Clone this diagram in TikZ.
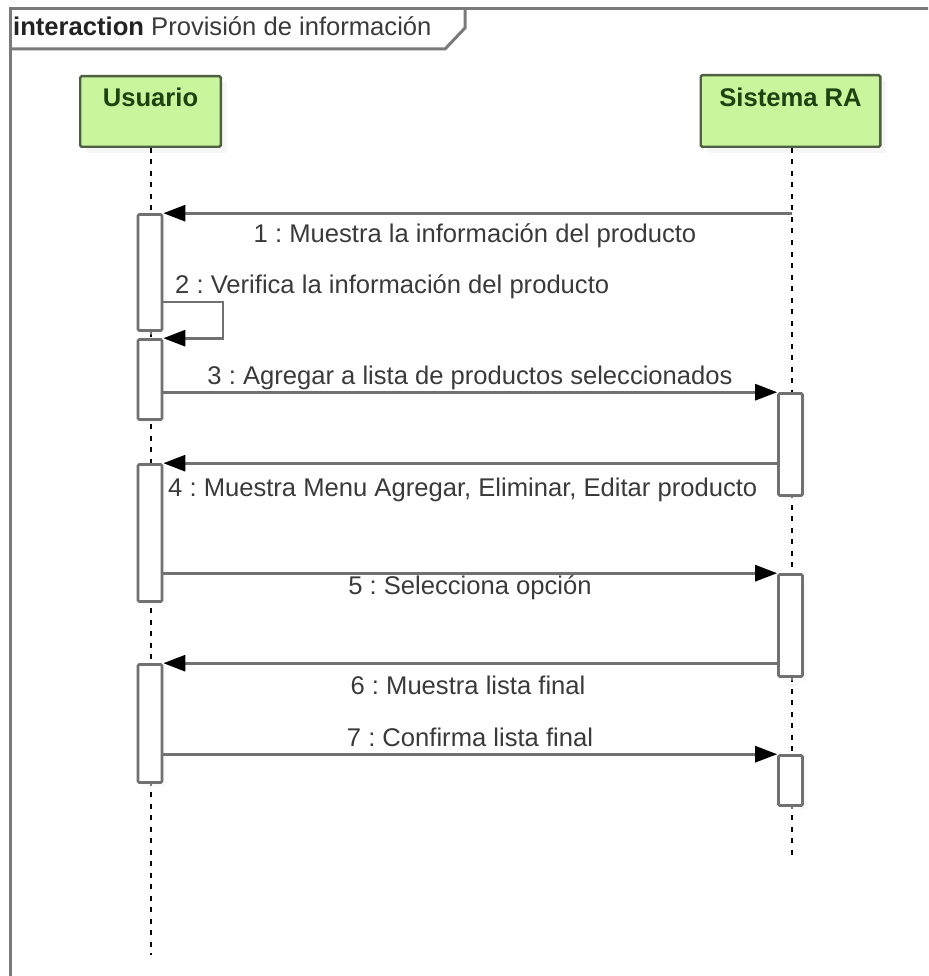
\documentclass[tikz,border=0pt]{standalone}
\usepackage{fontspec}
\setmainfont{Liberation Sans}
\usetikzlibrary{arrows.meta,shadows,calc}
\frenchspacing

\definecolor{frameGray}{HTML}{7A7A7A}
\definecolor{msgGray}{HTML}{717171}
\definecolor{lifeFill}{HTML}{C9F59C}
\definecolor{lifeEdge}{HTML}{4F5F42}
\definecolor{lifeText}{HTML}{1E4210}
\definecolor{labelText}{HTML}{3A3A3A}
\definecolor{titleText}{HTML}{222222}

\begin{document}
\begin{tikzpicture}[x=1pt,y=-1pt,
  every node/.style={font=\fontsize{25.6}{30}\selectfont},
  headbox/.style={draw=lifeEdge, line width=2.4pt, fill=lifeFill,
    rounded corners=1.5pt, inner sep=0pt,
    drop shadow={shadow xshift=6pt, shadow yshift=-6pt, fill=black!7}},
  headtext/.style={text=lifeText, font=\fontsize{25.6}{30}\selectfont\bfseries,
    anchor=base, inner sep=0pt},
  lifeline/.style={black, line width=2.2pt, dash pattern=on 5pt off 6.5pt},
  actbar/.style={draw=msgGray, line width=2.6pt, fill=white,
    rounded corners=1.2pt, minimum width=24pt, inner sep=0pt,
    drop shadow={shadow xshift=4pt, shadow yshift=-4pt, fill=black!4}},
  msg/.style={draw=msgGray, line width=2.8pt,
    -{Triangle[length=22pt,width=16pt,color=black]}},
  msglabel/.style={text=labelText, anchor=base, inner sep=0pt},
  framestroke/.style={draw=frameGray, line width=3pt},
]
\useasboundingbox (0,0) rectangle (928,976);
\clip (0,0) rectangle (928,976);

% interaction frame and its name tab
\draw[framestroke] (960,8.5) -- (10,8.5) -- (10,1000);
\draw[framestroke, line join=miter] (10,49) -- (445,49) -- (465,28) -- (465,8.5);
\node[anchor=base west, inner sep=0pt, text=titleText] (title) at (13,36)
  {\textbf{interaction} {\color{labelText}Provisión de información}};

% lifeline heads
\node[headbox, minimum width=140.6pt, minimum height=70.6pt] (uHead) at (150.5,111.5) {};
\node[headbox, minimum width=179.6pt, minimum height=71.6pt] (sHead) at (790.5,111) {};
\node[headtext] (uName) at ($(uHead.north)+(0,32)$) {Usuario};
\node[headtext] (sName) at ($(sHead.north)+(0,33)$) {Sistema RA};

% lifelines
\coordinate (uEnd) at (151,955);
\coordinate (sEnd) at (792,857);
\draw[lifeline] (uHead.south -| uEnd) -- (uEnd);
\draw[lifeline] (sHead.south -| sEnd) -- (sEnd);

% activation bars
\node[actbar, minimum height=116pt] (ub1) at (150,272.5) {};
\node[actbar, minimum height=80pt]  (ub2) at (150,379.5) {};
\node[actbar, minimum height=137pt] (ub3) at (150,533) {};
\node[actbar, minimum height=118pt] (ub4) at (150,723.5) {};
\node[actbar, minimum height=102pt] (sb1) at (790.5,444.5) {};
\node[actbar, minimum height=102pt] (sb2) at (790.5,625.5) {};
\node[actbar, minimum height=50pt]  (sb3) at (790.5,780.5) {};

% messages
\draw[msg] (sEnd |- ub1.north east) -- (ub1.north east);
\coordinate (loop) at (223,302);
\draw[msg] (loop -| ub1.east) -- (loop) |- (ub2.north east);
\draw[msg] (sb1.north west -| ub2.east) -- (sb1.north west);
\draw[msg] (ub3.north east -| sb1.west) -- (ub3.north east);
\draw[msg] (sb2.north west -| ub3.east) -- (sb2.north west);
\draw[msg] (ub4.north east -| sb2.west) -- (ub4.north east);
\draw[msg] (sb3.north west -| ub4.east) -- (sb3.north west);

% message labels
\node[msglabel] (l1) at (475,243) {1 : Muestra la información del producto};
\node[msglabel, anchor=base west] (l2) at (175,293) {2 : Verifica la información del producto};
\node[msglabel] (l3) at (470,384) {3 : Agregar a lista de productos seleccionados};
\node[msglabel, anchor=base west] (l4) at (168,496) {4 : Muestra Menu Agregar, Eliminar, Editar producto};
\node[msglabel] (l5) at (470,594) {5 : Selecciona opción};
\node[msglabel] (l6) at (468,694) {6 : Muestra lista final};
\node[msglabel] (l7) at (470,746) {7 : Confirma lista final};
\end{tikzpicture}
\end{document}
